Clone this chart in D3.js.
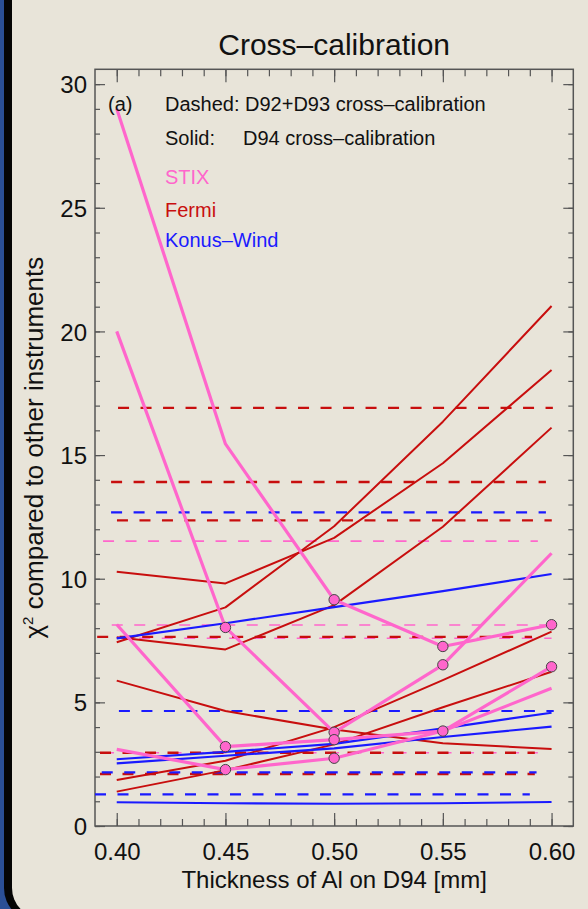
<!DOCTYPE html>
<html>
<head>
<meta charset="utf-8">
<script src="https://cdn.jsdelivr.net/npm/d3@7"></script>
<style>
  body { margin: 0; background: #2b4f96; }
  svg { display: block; }
  text { font-family: "Liberation Sans", Arial, Helvetica, sans-serif; fill: #111; }
</style>
</head>
<body>
<div id="chart"></div>
<script>
// thickness of Al on D94 [mm]
var thickness = [0.40, 0.45, 0.50, 0.55, 0.60];

// solid lines: D94 cross-calibration
var stixSolid = [
    [29.0, 15.45, 9.15, 7.26, 8.14],
    [20.0, 8.03, 3.79, 6.52, 11.03],
    [8.15, 3.21, 3.49, 3.84, 6.44],
    [3.10, 2.28, 2.74, 3.84, 5.57]
];
// which points get a circle
var stixMarks = [
    [0, 0, 1, 1, 1],
    [0, 1, 1, 1, 0],
    [0, 1, 1, 1, 1],
    [0, 1, 1, 0, 0]
];
var fermiSolid = [
    [7.43, 8.84, 12.12, 16.35, 21.03],
    [10.28, 9.81, 11.65, 14.67, 18.44],
    [7.63, 7.14, 8.93, 12.10, 16.11],
    [5.88, 4.65, 3.90, 3.35, 3.11],
    [1.86, 2.64, 4.00, 5.90, 7.86],
    [1.39, 2.26, 3.30, 4.80, 6.24]
];
var konusSolid = [
    [7.59, 8.20, 8.85, 9.50, 10.19],
    [2.70, 3.00, 3.32, 3.95, 4.58],
    [2.53, 2.84, 3.14, 3.60, 4.02],
    [0.96, 0.92, 0.90, 0.92, 0.97]
];

// dashed lines: D92+D93 cross-calibration (chi2 level, x where the dashes start)
var stixDashed = [11.52, 8.13, 7.59, 2.96];
var stixDashStart = [0.3937, 0.3977, 0.4000, 0.3937];
var fermiDashed = [16.91, 13.91, 12.36, 7.65, 2.96, 2.10];
var fermiDashStart = [0.4006, 0.3974, 0.4001, 0.3910, 0.3923, 0.3923];
var konusDashed = [12.68, 4.65, 2.17, 1.28];
var konusDashStart = [0.3974, 0.4010, 0.3931, 0.3900];

var xMajor = [0.40, 0.45, 0.50, 0.55, 0.60];
var xMinor = d3.range(40, 61).map(function(d){ return d / 100; });
var yMajor = [0, 5, 10, 15, 20, 25, 30];
var yMinor = d3.range(0, 31);

var pink = "#ff66cc", red = "#c80e0e", blue = "#1a1aff";

var W = 588, H = 909;
var svg = d3.select("#chart").append("svg")
    .attr("width", W)
    .attr("height", H);

// background: blue page, black rim, beige panel
svg.append("rect").attr("width", W).attr("height", H).attr("fill", "#2b4f96");
svg.append("rect")
    .attr("x", 4).attr("y", -40)
    .attr("width", 640).attr("height", 962)
    .attr("rx", 34).attr("fill", "#050505");
svg.append("rect")
    .attr("x", 12).attr("y", -34)
    .attr("width", 620).attr("height", 952)
    .attr("rx", 30).attr("fill", "#e8e4d9");

var x = d3.scaleLinear().domain([0.39, 0.61]).range([95, 573.3]);
var y = d3.scaleLinear().domain([0, 30.6]).range([826, 69.3]);

var line = d3.line()
    .x(function(d, i){ return x(thickness[i]); })
    .y(function(d){ return y(d); });

// title
svg.append("text")
    .attr("x", (x.range()[0] + x.range()[1]) / 2)
    .attr("y", 55)
    .attr("text-anchor", "middle")
    .attr("font-size", "30px")
    .text("Cross\u2013calibration");

// axes, ticks pointing inward
function styleAxis(g) {
    g.attr("font-family", null).attr("font-size", null);
    g.select(".domain").remove();
    g.selectAll(".tick line").attr("stroke", "#555").attr("stroke-width", 1.2);
}

svg.append("g")
    .attr("transform", "translate(0," + y(0) + ")")
    .call(d3.axisBottom(x).tickValues(xMinor).tickSize(-7).tickFormat(""))
    .call(styleAxis);
svg.append("g")
    .attr("transform", "translate(0," + y(0) + ")")
    .call(d3.axisBottom(x).tickValues(xMajor).tickSize(-13).tickPadding(17).tickFormat(d3.format(".2f")))
    .call(styleAxis)
    .selectAll("text").attr("font-size", "24px");
svg.append("g")
    .attr("transform", "translate(0," + y.range()[1] + ")")
    .call(d3.axisTop(x).tickValues(xMinor).tickSize(-7).tickFormat(""))
    .call(styleAxis);
svg.append("g")
    .attr("transform", "translate(0," + y.range()[1] + ")")
    .call(d3.axisTop(x).tickValues(xMajor).tickSize(-13).tickFormat(""))
    .call(styleAxis);

svg.append("g")
    .attr("transform", "translate(" + x.range()[0] + ",0)")
    .call(d3.axisLeft(y).tickValues(yMinor).tickSize(-5).tickFormat(""))
    .call(styleAxis);
svg.append("g")
    .attr("transform", "translate(" + x.range()[0] + ",0)")
    .call(d3.axisLeft(y).tickValues(yMajor).tickSize(-10).tickPadding(8))
    .call(styleAxis)
    .selectAll("text").attr("font-size", "24px").attr("dy", "0.36em");
svg.append("g")
    .attr("transform", "translate(" + x.range()[1] + ",0)")
    .call(d3.axisRight(y).tickValues(yMinor).tickSize(-5).tickFormat(""))
    .call(styleAxis);
svg.append("g")
    .attr("transform", "translate(" + x.range()[1] + ",0)")
    .call(d3.axisRight(y).tickValues(yMajor).tickSize(-10).tickFormat(""))
    .call(styleAxis);

// frame
svg.append("rect")
    .attr("x", x.range()[0]).attr("y", y.range()[1])
    .attr("width", x.range()[1] - x.range()[0])
    .attr("height", y.range()[0] - y.range()[1])
    .attr("fill", "none")
    .attr("stroke", "#555")
    .attr("stroke-width", 1.5);

// axis titles
svg.append("text")
    .attr("x", (x.range()[0] + x.range()[1]) / 2)
    .attr("y", 888)
    .attr("text-anchor", "middle")
    .attr("font-size", "24px")
    .text("Thickness of Al on D94 [mm]");

var ylab = svg.append("text")
    .attr("transform", "translate(43," + (y.range()[0] + y.range()[1]) / 2 + ") rotate(-90)")
    .attr("text-anchor", "middle")
    .attr("font-size", "26px");
ylab.append("tspan").text("\u03c7");
ylab.append("tspan").attr("font-size", "15px").attr("dy", "-10").text("2");
ylab.append("tspan").attr("dy", "10").text(" compared to other instruments");

// dashed levels
function drawDashed(levels, starts, color, width) {
    svg.append("g").selectAll("line")
        .data(levels)
        .enter()
        .append("line")
        .attr("x1", function(d, i){ return x(starts[i]); })
        .attr("x2", function(d, i){ return x(starts[i] + 0.2); })
        .attr("y1", function(d){ return y(d); })
        .attr("y2", function(d){ return y(d); })
        .attr("stroke", color)
        .attr("stroke-width", width)
        .attr("stroke-dasharray", "11,11.5");
}
drawDashed(stixDashed, stixDashStart, pink, 1.6);
drawDashed(fermiDashed, fermiDashStart, red, 2.4);
drawDashed(konusDashed, konusDashStart, blue, 2.2);

// solid curves
function drawSolid(series, color, width) {
    svg.append("g").selectAll("path")
        .data(series)
        .enter()
        .append("path")
        .attr("d", line)
        .attr("fill", "none")
        .attr("stroke", color)
        .attr("stroke-width", width)
        .attr("stroke-linejoin", "round");
}
drawSolid(fermiSolid, red, 2);
drawSolid(konusSolid, blue, 2.2);
drawSolid(stixSolid, pink, 3.2);

// circles on STIX points
var marks = [];
stixSolid.forEach(function(s, j){
    s.forEach(function(v, i){
        if (stixMarks[j][i]) marks.push({ t: thickness[i], v: v });
    });
});
svg.append("g").selectAll("circle")
    .data(marks)
    .enter()
    .append("circle")
    .attr("cx", function(d){ return x(d.t); })
    .attr("cy", function(d){ return y(d.v); })
    .attr("r", 5.2)
    .attr("fill", pink)
    .attr("stroke", "#444")
    .attr("stroke-width", 1);

// legend
var leg = svg.append("g").attr("font-size", "20px");
leg.append("text").attr("x", 108).attr("y", 111).text("(a)");
leg.append("text").attr("x", 165).attr("y", 111).text("Dashed: D92+D93 cross\u2013calibration");
leg.append("text").attr("x", 165).attr("y", 145).text("Solid:");
leg.append("text").attr("x", 243).attr("y", 145).text("D94 cross\u2013calibration");
leg.append("text").attr("x", 165).attr("y", 184).style("fill", pink).text("STIX");
leg.append("text").attr("x", 165).attr("y", 217).style("fill", red).text("Fermi");
leg.append("text").attr("x", 165).attr("y", 247).style("fill", blue).text("Konus\u2013Wind");
</script>
</body>
</html>
